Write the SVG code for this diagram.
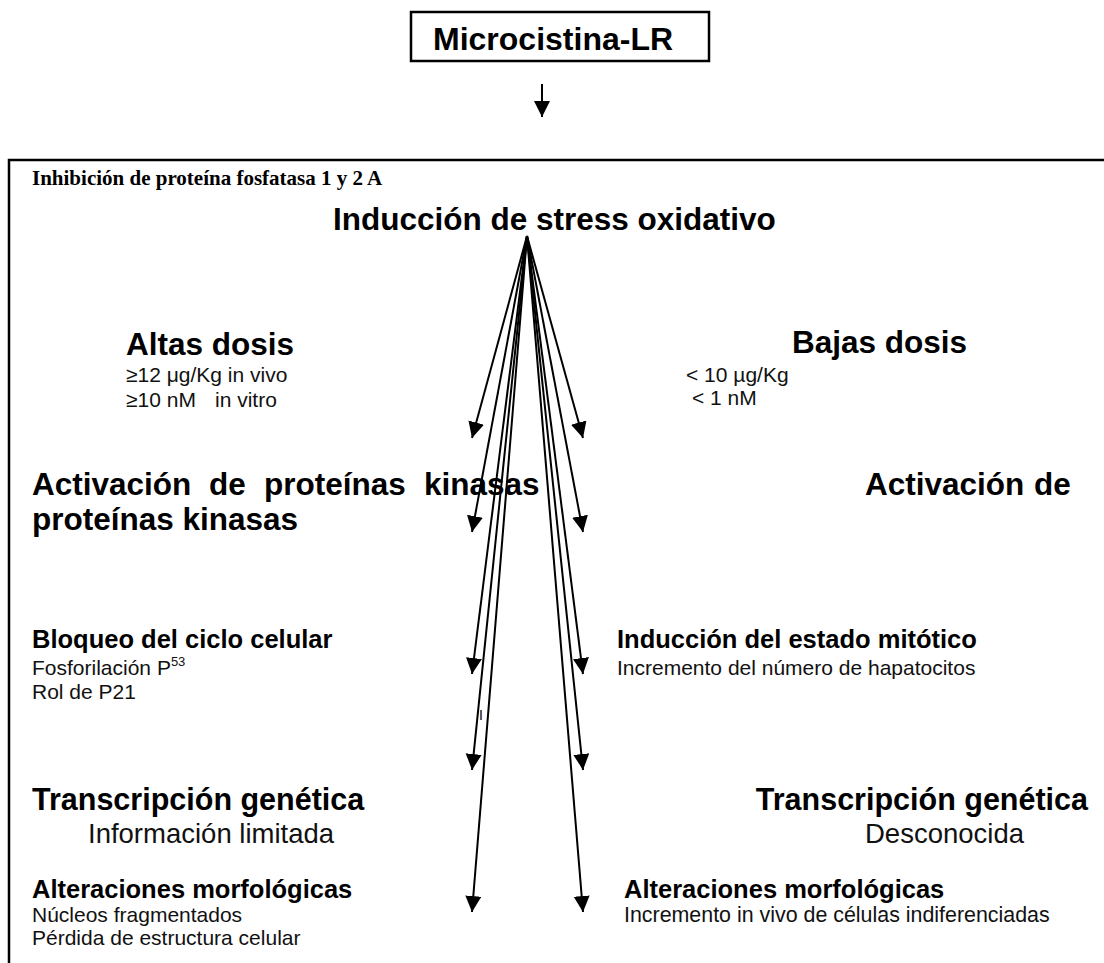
<svg xmlns="http://www.w3.org/2000/svg" width="1104" height="963" viewBox="0 0 1104 963">
<defs>
<marker id="ah" markerUnits="userSpaceOnUse" markerWidth="18" markerHeight="18" refX="16" refY="8" orient="auto"><path d="M0,0 L16,8 L0,16 Z" fill="#000"/></marker>
<style>
text{font-family:"Liberation Sans",Arial,sans-serif;fill:#000}
.b{font-weight:bold}
.h1{font-weight:bold;font-size:31.5px}
.ht{font-weight:bold;font-size:30.5px}
.h2{font-weight:bold;font-size:25.5px}
.s{font-size:21px;fill:#111}
.s2{font-size:21.4px;fill:#111}
.sup{font-size:13px}
.m{font-size:27.5px;fill:#111}
.serif{font-family:"Liberation Serif","Times New Roman",serif;font-weight:bold;font-size:21px}
.ln{stroke:#000;stroke-width:2;fill:none}
.box{stroke:#000;stroke-width:2.5;fill:none}
</style>
</defs>
<rect width="1104" height="963" fill="#fff"/>
<g id="microcistina">
<rect class="box" x="411" y="12" width="298" height="49"/>
<text class="b" x="433" y="50" font-size="32">Microcistina-LR</text>
</g>
<g id="panel">
<path class="box" d="M1106,160 H9 V965"/>
<text class="serif" x="32" y="185">Inhibición de proteína fosfatasa 1 y 2 A</text>
</g>
<g id="estres"><text class="h1" x="333" y="230">Inducción de stress oxidativo</text></g>
<g id="altas">
<text class="h1" x="126" y="355">Altas dosis</text>
<text class="s" x="126" y="382">≥12 μg/Kg in vivo</text>
<text class="s" x="126" y="407">≥10 nM<tspan x="215">in vitro</tspan></text>
</g>
<g id="bajas">
<text class="h1" x="792" y="353">Bajas dosis</text>
<text class="s" x="686" y="382">&lt; 10 µg/Kg</text>
<text class="s" x="692" y="405">&lt; 1 nM</text>
</g>
<g id="kinasas-izq">
<text class="h1" y="495"><tspan x="32">Activación</tspan><tspan x="209">de</tspan><tspan x="264">proteínas</tspan><tspan x="424">kinasas</tspan></text>
<text class="h1" x="32" y="530">proteínas kinasas</text>
</g>
<g id="kinasas-der">
<text class="h1" y="495"><tspan x="865">Activación</tspan><tspan x="1034">de</tspan></text>
</g>
<g id="bloqueo">
<text class="h2" x="32" y="648">Bloqueo del ciclo celular</text>
<text class="s" x="32" y="675">Fosforilación P<tspan class="sup" dy="-9">53</tspan></text>
<text class="s" x="32" y="699">Rol de P21</text>
</g>
<g id="mitotico">
<text class="h2" x="617" y="648">Inducción del estado mitótico</text>
<text class="s" x="617" y="675">Incremento del número de hapatocitos</text>
</g>
<g id="transcripcion-izq">
<text class="ht" x="32" y="810">Transcripción genética</text>
<text class="m" x="88" y="843">Información limitada</text>
</g>
<g id="transcripcion-der">
<text class="ht" x="1088" y="810" text-anchor="end">Transcripción genética</text>
<text class="m" x="865" y="843">Desconocida</text>
</g>
<g id="morfologia-izq">
<text class="h2" x="32" y="898">Alteraciones morfológicas</text>
<text class="s" x="32" y="922">Núcleos fragmentados</text>
<text class="s" x="32" y="945">Pérdida de estructura celular</text>
</g>
<g id="morfologia-der">
<text class="h2" x="624" y="898">Alteraciones morfológicas</text>
<text class="s2" x="624" y="922">Incremento in vivo de células indiferenciadas</text>
</g>
<g id="connectors">
<line class="ln" x1="542" y1="84" x2="542" y2="117" marker-end="url(#ah)"/>
<line class="ln" x1="527" y1="236" x2="472" y2="438" marker-end="url(#ah)"/>
<line class="ln" x1="527" y1="236" x2="472" y2="532" marker-end="url(#ah)"/>
<line class="ln" x1="527" y1="236" x2="472" y2="674" marker-end="url(#ah)"/>
<line class="ln" x1="527" y1="236" x2="472" y2="770" marker-end="url(#ah)"/>
<line class="ln" x1="527" y1="236" x2="472" y2="912" marker-end="url(#ah)"/>
<line class="ln" x1="527" y1="236" x2="583" y2="438" marker-end="url(#ah)"/>
<line class="ln" x1="527" y1="236" x2="583" y2="532" marker-end="url(#ah)"/>
<line class="ln" x1="527" y1="236" x2="583" y2="674" marker-end="url(#ah)"/>
<line class="ln" x1="527" y1="236" x2="583" y2="770" marker-end="url(#ah)"/>
<line class="ln" x1="527" y1="236" x2="583" y2="912" marker-end="url(#ah)"/>
<text x="479" y="720" font-size="14" fill="#000">I</text>
</g>
</svg>
